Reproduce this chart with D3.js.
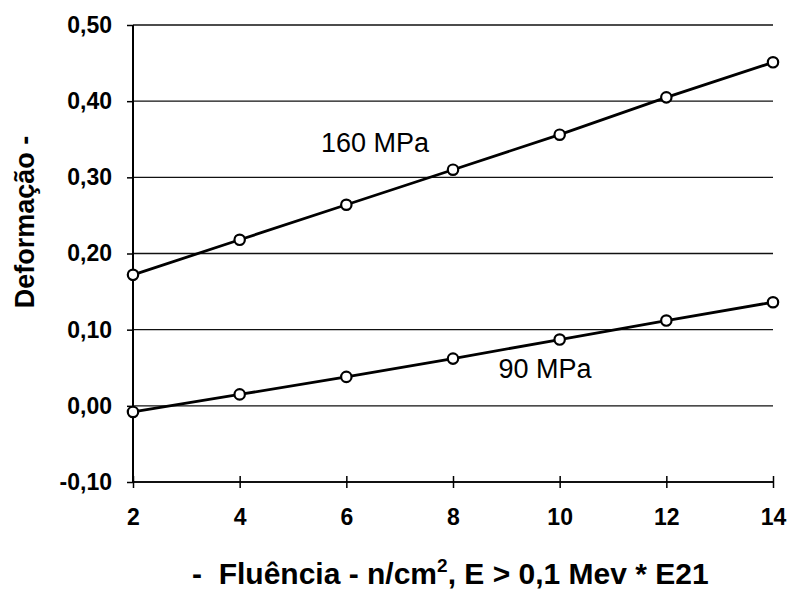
<!DOCTYPE html>
<html><head><meta charset="utf-8">
<script src="https://cdn.jsdelivr.net/npm/d3@7"></script>
<style>body{margin:0;background:#fff}svg{display:block}</style>
</head><body><svg id="c" width="793" height="589"></svg>
<script>
const xValues = [2, 4, 6, 8, 10, 12, 14];
const s160 = [0.172, 0.218, 0.264, 0.310, 0.356, 0.405, 0.451];
const s90 = [-0.008, 0.015, 0.038, 0.062, 0.087, 0.112, 0.136];
const seriesNames = ["160 MPa", "90 MPa"];
const yTicks = [-0.10, 0.00, 0.10, 0.20, 0.30, 0.40, 0.50];
const xTicks = [2, 4, 6, 8, 10, 12, 14];

const svg = d3.select("#c");
const font = "'Liberation Sans', Arial, sans-serif";
const x = d3.scaleLinear().domain([2, 14]).range([133, 773]);
const y = d3.scaleLinear().domain([-0.10, 0.50]).range([482, 25]);
const fmt = v => d3.format(".2f")(v).replace(".", ",").replace("−", "-");

// gridlines
svg.append("g").selectAll("line").data(yTicks).join("line")
  .attr("x1", x(2)).attr("x2", x(14))
  .attr("y1", d => y(d)).attr("y2", d => y(d))
  .attr("stroke", "#111").attr("stroke-width", d => d === -0.10 ? 2 : 1.3);

// y axis
const ya = svg.append("g").attr("transform", `translate(${x(2)},0)`)
  .call(d3.axisLeft(y).tickValues(yTicks).tickFormat(fmt).tickSize(6).tickPadding(15));
ya.select(".domain").attr("stroke", "#000").attr("stroke-width", 2).attr("d", `M0,${y(0.5)}V${y(-0.1)}`);
ya.selectAll(".tick line").attr("stroke", "#000").attr("stroke-width", 1.5);
ya.selectAll("text").attr("font-family", font).attr("font-weight", "bold").attr("font-size", 23).attr("fill", "#000");

// x axis
const xa = svg.append("g").attr("transform", `translate(0,${y(-0.10)})`)
  .call(d3.axisBottom(x).tickValues(xTicks).tickFormat(d3.format("d")).tickSize(6).tickPadding(10));
xa.select(".domain").remove();
xa.selectAll(".tick line").attr("y1", -6).attr("y2", 6).attr("stroke", "#000").attr("stroke-width", 1.5);
xa.selectAll("text").attr("y", 43).attr("dy", null).attr("font-family", font).attr("font-weight", "bold").attr("font-size", 23).attr("fill", "#000");

// lines
const line = d3.line().x((d, i) => x(xValues[i])).y(d => y(d));
[s160, s90].forEach(s => {
  svg.append("path").datum(s).attr("d", line).attr("fill", "none")
    .attr("stroke", "#000").attr("stroke-width", 2.8);
  svg.append("g").selectAll("circle").data(s).join("circle")
    .attr("cx", (d, i) => x(xValues[i])).attr("cy", d => y(d)).attr("r", 5.2)
    .attr("fill", "#fff").attr("stroke", "#000").attr("stroke-width", 2.2);
});

// series labels
svg.append("text").attr("x", 375).attr("y", 152).attr("text-anchor", "middle")
  .attr("font-family", font).attr("font-size", 27).text(seriesNames[0]);
svg.append("text").attr("x", 545).attr("y", 378).attr("text-anchor", "middle")
  .attr("font-family", font).attr("font-size", 27).text(seriesNames[1]);

// axis titles
const xt = svg.append("text").attr("x", 192).attr("y", 584).attr("text-anchor", "start")
  .attr("font-family", font).attr("font-weight", "bold").attr("font-size", 30)
  .attr("xml:space", "preserve");
xt.append("tspan").text("-  Fluência - n/cm");
xt.append("tspan").attr("dy", -12).attr("font-size", 19).text("2");
xt.append("tspan").attr("dy", 12).text(", E > 0,1 Mev * E21");

svg.append("text").attr("transform", "translate(34,222) rotate(-90)").attr("text-anchor", "middle")
  .attr("font-family", font).attr("font-weight", "bold").attr("font-size", 27).text("Deformação -");
</script></body></html>
